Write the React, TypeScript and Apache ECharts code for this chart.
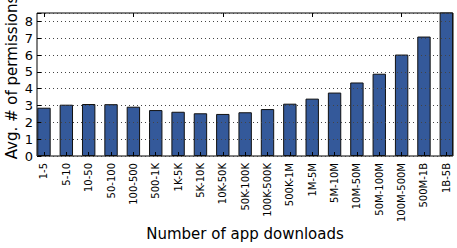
import React, { useEffect, useRef } from "react";
import * as echarts from "echarts";

const categories = [
  "1-5", "5-10", "10-50", "50-100", "100-500", "500-1K", "1K-5K", "5K-10K",
  "10K-50K", "50K-100K", "100K-500K", "500K-1M", "1M-5M", "5M-10M", "10M-50M",
  "50M-100M", "100M-500M", "500M-1B", "1B-5B",
];
const avgPermissions = [
  2.87, 3.05, 3.09, 3.08, 2.93, 2.73, 2.63, 2.54, 2.5, 2.6, 2.79, 3.11, 3.41,
  3.77, 4.37, 4.89, 6.03, 7.1, 8.9,
];
const yTicks = [0, 1, 2, 3, 4, 5, 6, 7, 8];
const yAxisName = "Avg. # of permissions";
const xAxisName = "Number of app downloads";

const FONT = "DejaVu Sans";

export default function App() {
  const ref = useRef<HTMLDivElement>(null);
  useEffect(() => {
    if (!ref.current) return;
    const chart = echarts.init(ref.current, null, { renderer: "svg" });
    const yMax = 8.5;
    chart.setOption({
      animation: false,
      backgroundColor: "#fff",
      grid: [
        {
          left: 37,
          top: 13,
          width: 416,
          bottom: 92,
          show: true,
          borderColor: "#000",
          borderWidth: 1,
          backgroundColor: "transparent",
          containLabel: false,
          outerBoundsMode: "none",
        },
        {
          left: 32.8,
          top: 13,
          width: 424.7,
          bottom: 92,
          containLabel: false,
          outerBoundsMode: "none",
        },
      ],
      xAxis: [
        {
          type: "value",
          gridIndex: 0,
          min: 0,
          max: 1,
          axisLine: { show: false },
          axisTick: { show: false },
          axisLabel: { show: false },
          splitLine: { show: false },
          name: xAxisName,
          nameLocation: "middle",
          nameGap: 70,
          nameMoveOverlap: false,
          nameTextStyle: { fontFamily: FONT, fontSize: 15, color: "#000" },
        },
        {
          type: "category",
          gridIndex: 1,
          data: categories,
          position: "bottom",
          z: 5,
          axisLine: { show: false },
          axisTick: {
            show: true,
            inside: true,
            alignWithLabel: true,
            length: 4,
            lineStyle: { color: "#000", width: 1 },
          },
          axisLabel: {
            rotate: 90,
            interval: 0,
            margin: 7,
            fontFamily: FONT,
            fontSize: 10,
            color: "#000",
          },
          splitLine: { show: false },
        },
        {
          type: "category",
          gridIndex: 1,
          data: categories,
          position: "top",
          z: 5,
          axisLine: { show: false },
          axisTick: {
            show: true,
            inside: true,
            alignWithLabel: true,
            length: 4,
            lineStyle: { color: "#000", width: 1 },
          },
          axisLabel: { show: false },
          splitLine: { show: false },
        },
      ],
      yAxis: [
        {
          type: "value",
          gridIndex: 0,
          min: 0,
          max: yMax,
          interval: 1,
          z: 5,
          axisLine: { show: false },
          axisTick: {
            show: true,
            inside: true,
            length: 4,
            lineStyle: { color: "#000", width: 1 },
          },
          axisLabel: {
            margin: 4,
            fontFamily: FONT,
            fontSize: 13,
            color: "#000",
            formatter: (v: number) => (yTicks.includes(v) ? String(v) : ""),
          },
          splitLine: {
            show: true,
            lineStyle: { color: "#444", width: 1, type: [1, 3] },
          },
          name: yAxisName,
          nameLocation: "middle",
          nameGap: 18,
          nameMoveOverlap: false,
          nameTextStyle: {
            fontFamily: FONT,
            fontSize: 15,
            color: "#000",
            padding: [0, 0, 0, 14],
          },
        },
        {
          type: "value",
          gridIndex: 1,
          min: 0,
          max: yMax,
          show: false,
          splitLine: { show: false },
        },
      ],
      series: [
        {
          type: "bar",
          xAxisIndex: 1,
          yAxisIndex: 1,
          data: avgPermissions,
          barWidth: 13.4,
          clip: true,
          itemStyle: {
            color: "#34599a",
            borderColor: "#111",
            borderWidth: 1,
          },
          z: 2,
        },
      ],
    });
    return () => chart.dispose();
  }, []);
  return (
    <div
      ref={ref}
      style={{ position: "absolute", left: 0, top: 0, width: 457, height: 248 }}
    />
  );
}
